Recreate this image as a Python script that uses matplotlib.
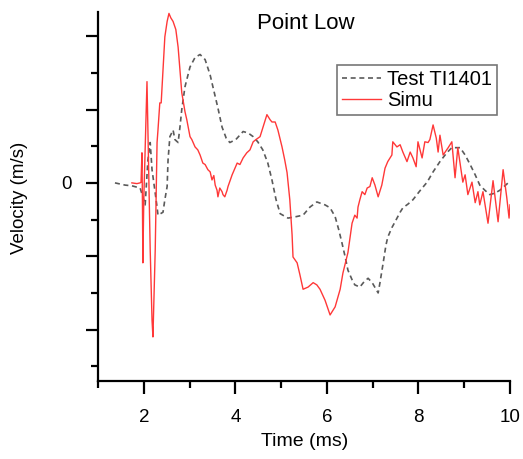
import matplotlib
matplotlib.use("Agg")
import matplotlib.pyplot as plt
from matplotlib.ticker import MultipleLocator, FixedFormatter, FixedLocator

plt.rcParams['font.family'] = ['Liberation Sans', 'DejaVu Sans']

# measured velocity (TI1401)
test_t = [1.37, 1.59, 1.74, 1.92, 1.98, 2.03, 2.09, 2.14, 2.18, 2.25, 2.29, 2.31,
          2.42, 2.46, 2.51, 2.53, 2.57, 2.64, 2.68, 2.75, 2.79, 2.83, 2.90, 3.01,
          3.12, 3.23, 3.34, 3.45, 3.51, 3.62, 3.71, 3.80, 3.88, 4.01, 4.17, 4.28,
          4.39, 4.49, 4.60, 4.71, 4.80, 4.89, 4.98, 5.15, 5.33, 5.48, 5.63, 5.78,
          5.96, 6.07, 6.18, 6.26, 6.33, 6.40, 6.46, 6.55, 6.61, 6.72, 6.81, 6.90,
          6.99, 7.12, 7.16, 7.23, 7.29, 7.33, 7.42, 7.49, 7.60, 7.66, 7.77, 7.88,
          8.03, 8.19, 8.32, 8.47, 8.62, 8.73, 8.91, 9.02, 9.13, 9.24, 9.34, 9.45,
          9.56, 9.67, 9.78, 9.96]
test_v = [0.00, -0.03, -0.04, -0.07, -0.19, -0.30, 0.31, 0.55, 0.18, -0.14, -0.33, -0.44,
          -0.40, -0.23, -0.05, 0.31, 0.63, 0.72, 0.59, 0.55, 0.76, 1.00, 1.31, 1.58,
          1.71, 1.75, 1.68, 1.47, 1.31, 1.02, 0.76, 0.61, 0.55, 0.59, 0.70, 0.68,
          0.63, 0.56, 0.45, 0.27, 0.04, -0.23, -0.42, -0.48, -0.46, -0.44, -0.33, -0.26,
          -0.30, -0.34, -0.46, -0.64, -0.82, -1.01, -1.19, -1.32, -1.39, -1.42, -1.35, -1.30,
          -1.36, -1.50, -1.36, -1.09, -0.85, -0.74, -0.61, -0.53, -0.40, -0.34, -0.29, -0.23,
          -0.11, 0.01, 0.15, 0.29, 0.41, 0.48, 0.48, 0.38, 0.25, 0.11, -0.03, -0.10,
          -0.16, -0.14, -0.10, 0.00]

# simulated velocity
simu_t = [1.74, 1.85, 1.92, 1.94, 1.96, 1.97, 1.98, 2.00, 2.03, 2.07, 2.09, 2.14,
          2.18, 2.20, 2.22, 2.25, 2.29, 2.31, 2.35, 2.38, 2.42, 2.46, 2.51, 2.55,
          2.59, 2.64, 2.70, 2.75, 2.79, 2.83, 2.90, 2.94, 3.01, 3.05, 3.12, 3.18,
          3.23, 3.29, 3.34, 3.40, 3.45, 3.49, 3.53, 3.56, 3.60, 3.62, 3.66, 3.71,
          3.73, 3.77, 3.82, 3.84, 3.93, 4.04, 4.10, 4.17, 4.25, 4.32, 4.39, 4.45,
          4.54, 4.60, 4.69, 4.76, 4.80, 4.87, 4.93, 5.02, 5.08, 5.13, 5.19, 5.24,
          5.26, 5.35, 5.41, 5.48, 5.59, 5.70, 5.78, 5.85, 5.96, 6.07, 6.18, 6.29,
          6.35, 6.46, 6.55, 6.61, 6.66, 6.68, 6.72, 6.77, 6.83, 6.88, 6.94, 6.99,
          7.05, 7.12, 7.20, 7.27, 7.33, 7.42, 7.44, 7.53, 7.60, 7.66, 7.75, 7.82,
          7.88, 7.95, 7.99, 8.08, 8.14, 8.21, 8.25, 8.32, 8.39, 8.43, 8.47, 8.54,
          8.65, 8.73, 8.80, 8.86, 8.97, 9.02, 9.08, 9.17, 9.24, 9.30, 9.34, 9.41,
          9.52, 9.63, 9.74, 9.85, 9.93, 9.98, 10.00]
simu_v = [0.00, -0.01, 0.00, 0.01, 0.41, -0.23, -1.09, -0.23, 0.45, 1.38, 0.72, -0.91,
          -1.87, -2.10, -1.60, -0.91, 0.55, 0.72, 1.09, 1.09, 1.54, 1.99, 2.20, 2.31,
          2.25, 2.20, 2.09, 1.85, 1.54, 1.23, 0.97, 0.86, 0.63, 0.59, 0.49, 0.45,
          0.38, 0.27, 0.25, 0.18, 0.15, 0.04, 0.10, -0.03, -0.10, -0.19, -0.07, -0.12,
          -0.16, -0.19, -0.10, -0.05, 0.11, 0.27, 0.25, 0.34, 0.41, 0.45, 0.56, 0.59,
          0.63, 0.75, 0.93, 0.86, 0.83, 0.83, 0.72, 0.49, 0.31, 0.14, -0.23, -0.71,
          -1.01, -1.09, -1.25, -1.45, -1.42, -1.36, -1.39, -1.45, -1.60, -1.80, -1.69, -1.45,
          -1.23, -0.95, -0.55, -0.44, -0.48, -0.33, -0.23, -0.12, -0.16, -0.07, -0.05, 0.07,
          -0.03, -0.19, -0.03, 0.20, 0.29, 0.38, 0.56, 0.49, 0.52, 0.42, 0.29, 0.42,
          0.34, 0.22, 0.56, 0.34, 0.56, 0.55, 0.59, 0.79, 0.61, 0.42, 0.65, 0.38,
          0.48, 0.56, 0.07, 0.48, 0.01, 0.11, -0.16, 0.01, -0.27, -0.12, -0.30, -0.12,
          -0.55, 0.03, -0.53, 0.18, -0.20, -0.48, -0.30]

fig = plt.figure(figsize=(5.23, 4.59), dpi=100)
ax = fig.add_axes([0.1874, 0.170, 0.7877, 0.804])

ax.plot(test_t, test_v, color='#5a5a5a', lw=1.2, ls=(0, (3, 2.2)), label='Test TI1401')
ax.plot(simu_t, simu_v, color='#ff3838', lw=1.0, label='Simu')

ax.set_xlim(1, 10)
ax.set_ylim(-2.70, 2.33)

for s in ('top', 'right'):
    ax.spines[s].set_visible(False)
for s in ('left', 'bottom'):
    ax.spines[s].set_linewidth(1.6)

ax.xaxis.set_major_locator(MultipleLocator(2))
ax.xaxis.set_minor_locator(MultipleLocator(1))
ax.yaxis.set_major_locator(FixedLocator([-2, -1, 0, 1, 2]))
ax.yaxis.set_major_formatter(FixedFormatter(['', '', '0', '', '']))
ax.yaxis.set_minor_locator(MultipleLocator(0.5))
ax.tick_params(which='major', direction='out', length=9, width=1.6, labelsize=13.5, pad=11)
ax.tick_params(which='minor', direction='out', length=5, width=1.6)
ax.tick_params(axis='y', which='major', pad=10)

ax.text(0.505, 0.968, 'Point Low', transform=ax.transAxes, ha='center', va='center',
        fontsize=16)

fig.text(305 / 523, 1 - 441 / 459, 'Time (ms)', ha='center', va='center', fontsize=14)
fig.text(20 / 523, 1 - 198 / 459, 'Velocity (m/s)', ha='center', va='center',
         rotation=90, fontsize=13.5)

leg = ax.legend(loc='upper right', bbox_to_anchor=(0.968, 0.856), borderaxespad=0,
                fontsize=14.5, fancybox=False, framealpha=1, handlelength=1.9,
                handletextpad=0.3, borderpad=0.25, labelspacing=0.1)
leg.get_frame().set_edgecolor('#777777')
leg.get_frame().set_linewidth(1.2)

fig.savefig('out.png', dpi=100)
